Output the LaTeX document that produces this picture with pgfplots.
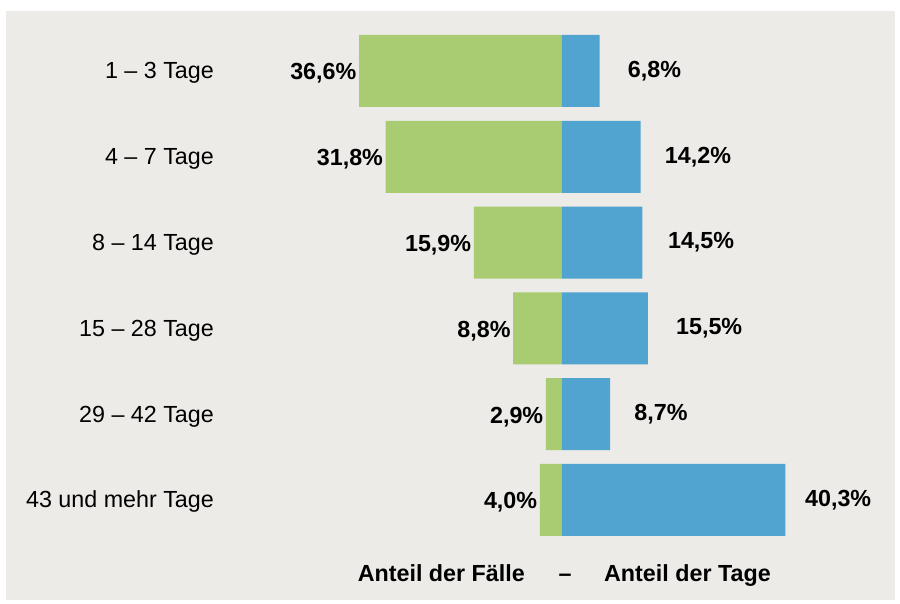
\documentclass[border=0pt]{standalone}
\usepackage{pgfplots}
\pgfplotsset{compat=1.18}
\usepackage{fontspec}
\setmainfont{Liberation Sans}
\definecolor{bg}{RGB}{236,235,231}
\definecolor{grn}{RGB}{169,204,114}
\definecolor{blu}{RGB}{82,164,208}
\begin{document}
\fontsize{23.3}{28}\selectfont
\begin{tikzpicture}
\fill[white] (0,0) rectangle (900pt,604pt);
\fill[bg] (6pt,4pt) rectangle (895pt,593pt);
\begin{axis}[at={(0pt,0pt)}, anchor=south west, scale only axis,
  width=900pt, height=604pt,
  xmin=-101.33, xmax=60.94, ymin=-0.8275, ymax=6.212, y dir=reverse,
  axis line style={draw=none}, xtick=\empty, ytick={0,...,5},
  yticklabels={1 – 3 Tage, 4 – 7 Tage, 8 – 14 Tage, 15 – 28 Tage, 29 – 42 Tage, 43 und mehr Tage},
  major tick length=0pt,
  yticklabel style={anchor=base east, xshift=214pt, yshift=-8pt, inner sep=0pt, font=\fontsize{23.3}{28}\selectfont},
  xbar, bar width=72pt, bar shift=0pt, clip=false,
  nodes near coords, point meta=explicit symbolic,
  every node near coord/.append style={font=\bfseries\fontsize{23.3}{28}\selectfont, text=black, inner sep=0pt}]
\addplot[fill=grn, draw=none, nodes near coords style={anchor=base east, xshift=-2.5pt, yshift=-9pt}] coordinates {
  (-36.6,0) [36,6\%]
  (-31.8,1) [31,8\%]
  (-15.9,2) [15,9\%]
  (-8.8,3) [8,8\%]
  (-2.9,4) [2,9\%]
  (-4.0,5) [4,0\%]
};
\addplot[fill=blu, draw=none, nodes near coords style={anchor=base west, xshift=24pt, yshift=-6.3pt}] coordinates {
  (6.8,0) [\hspace{4pt}6,8\%]
  (14.2,1) [14,2\%]
  (14.5,2) [\hspace{1.5pt}14,5\%]
  (15.5,3) [\hspace{4pt}15,5\%]
  (8.7,4) [8,7\%]
  (40.3,5) [\hspace{-4.5pt}40,3\%]
};
\end{axis}
\node[anchor=base east, inner sep=0pt, font=\bfseries] at (525pt,22pt) {Anteil der Fälle};
\node[anchor=base, inner sep=0pt, font=\bfseries] at (565pt,22pt) {–};
\node[anchor=base west, inner sep=0pt, font=\bfseries] at (604pt,22pt) {Anteil der Tage};
\end{tikzpicture}
\end{document}
